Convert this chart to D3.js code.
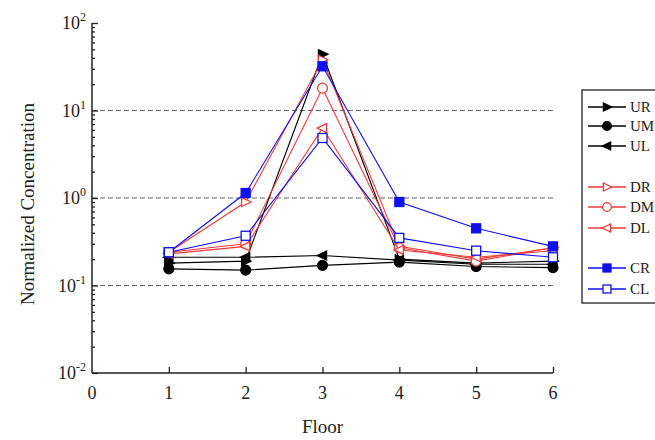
<!DOCTYPE html>
<html><head><meta charset="utf-8">
<script src="https://cdn.jsdelivr.net/npm/d3@7"></script>
<style>body{margin:0;background:#fff}svg{display:block}</style>
</head><body>
<script>
const floors = [1, 2, 3, 4, 5, 6];
const seriesNames = ["UR", "UM", "UL", "DR", "DM", "DL", "CR", "CL"];
const UR = [0.18, 0.19, 44, 0.20, 0.18, 0.19];
const UM = [0.155, 0.15, 0.17, 0.185, 0.165, 0.16];
const UL = [0.21, 0.21, 0.22, 0.195, 0.175, 0.175];
const DR = [0.24, 0.90, 38, 0.28, 0.20, 0.27];
const DM = [0.24, 0.30, 18, 0.27, 0.19, 0.27];
const DL = [0.23, 0.28, 6.3, 0.255, 0.21, 0.25];
const CR = [0.24, 1.14, 32, 0.90, 0.45, 0.28];
const CL = [0.24, 0.37, 4.85, 0.35, 0.25, 0.21];
const xTicks = [0, 1, 2, 3, 4, 5, 6];
const yTickExps = [-2, -1, 0, 1, 2];
const gridExps = [-1, 0, 1];

const W = 655, H = 440;
const svg = d3.select("body").append("svg").attr("width", W).attr("height", H);
const font = "'Liberation Serif','Times New Roman',serif";
const x = d3.scaleLinear().domain([0, 6]).range([92, 553]);
const y = d3.scaleLog().domain([0.01, 100]).range([373, 23]);

const RED = "#ee3b3b", BLUE = "#1010ee", BLACK = "#000";
const styles = {
  UR: {c: BLACK, m: "tri-r", fill: true},
  UM: {c: BLACK, m: "circle", fill: true},
  UL: {c: BLACK, m: "tri-l", fill: true},
  DR: {c: RED, m: "tri-r", fill: false},
  DM: {c: RED, m: "circle", fill: false},
  DL: {c: RED, m: "tri-l", fill: false},
  CR: {c: BLUE, m: "square", fill: true},
  CL: {c: BLUE, m: "square", fill: false}
};
const data = {UR, UM, UL, DR, DM, DL, CR, CL};

// grid
svg.append("g").selectAll("line").data(gridExps).join("line")
  .attr("x1", x(0)).attr("x2", x(6))
  .attr("y1", d => y(Math.pow(10, d))).attr("y2", d => y(Math.pow(10, d)))
  .attr("stroke", "#666").attr("stroke-width", 1).attr("stroke-dasharray", "5,3");

// axes
const yMinor = [];
for (let e = -2; e < 2; e++) for (let k = 2; k <= 9; k++) yMinor.push(k * Math.pow(10, e));
const yMajorVals = yTickExps.map(e => Math.pow(10, e));

const yAxis = svg.append("g").attr("transform", `translate(${x(0)},0)`)
  .call(d3.axisRight(y).tickValues(yMajorVals).tickSize(6).tickFormat(""));
svg.append("g").attr("transform", `translate(${x(0)},0)`)
  .call(d3.axisRight(y).tickValues(yMinor).tickSize(3).tickFormat(""))
  .call(g => g.select(".domain").remove());
yAxis.select(".domain").attr("d", `M0,${y(100)}V${y(0.01)}`);
svg.selectAll("g .tick line").attr("stroke", "#222").attr("stroke-width", 1.3);
yAxis.select(".domain").attr("stroke", "#222").attr("stroke-width", 1.5);

const xAxis = svg.append("g").attr("transform", `translate(0,${y(0.01)})`)
  .call(d3.axisTop(x).tickValues(xTicks.slice(1)).tickSize(6).tickFormat(""));
xAxis.select(".domain").attr("d", `M${x(0)},0H${x(6)}`).attr("stroke", "#222").attr("stroke-width", 1.5);
xAxis.selectAll(".tick line").attr("stroke", "#222").attr("stroke-width", 1.3);

// x tick labels
svg.append("g").selectAll("text").data(xTicks).join("text")
  .attr("x", d => x(d)).attr("y", 399)
  .attr("text-anchor", "middle").attr("font-family", font).attr("font-size", 18).attr("fill", "#222")
  .text(d => d);

// y tick labels
const yl = svg.append("g").selectAll("text").data(yTickExps).join("text")
  .attr("x", 86).attr("y", d => y(Math.pow(10, d)) + 6)
  .attr("text-anchor", "end").attr("font-family", font).attr("font-size", 18).attr("fill", "#222");
yl.append("tspan").text("10");
yl.append("tspan").attr("dy", -8).attr("font-size", 12).text(d => d < 0 ? "-" + Math.abs(d) : d);

// axis titles
svg.append("text").attr("x", x(3)).attr("y", 433).attr("text-anchor", "middle")
  .attr("font-family", font).attr("font-size", 19).attr("fill", "#222").text("Floor");
svg.append("text").attr("transform", `translate(34,204)rotate(-90)`).attr("text-anchor", "middle")
  .attr("font-family", font).attr("font-size", 19).attr("fill", "#222").text("Normalized Concentration");

function marker(sel, m, cx, cy, c, fill, s) {
  let el;
  if (m === "circle") el = sel.append("circle").attr("cx", cx).attr("cy", cy).attr("r", s * 0.55);
  else if (m === "square") el = sel.append("rect").attr("x", cx - s / 2).attr("y", cy - s / 2).attr("width", s).attr("height", s);
  else if (m === "tri-r") el = sel.append("path").attr("d", `M${cx + s * 0.6},${cy}L${cx - s * 0.45},${cy - s * 0.5}L${cx - s * 0.45},${cy + s * 0.5}Z`);
  else el = sel.append("path").attr("d", `M${cx - s * 0.6},${cy}L${cx + s * 0.45},${cy - s * 0.5}L${cx + s * 0.45},${cy + s * 0.5}Z`);
  el.attr("fill", fill ? c : "#fff").attr("stroke", c).attr("stroke-width", 1.3);
}

const line = d3.line().x((d, i) => x(floors[i])).y(d => y(d));
seriesNames.forEach(name => {
  const st = styles[name];
  const g = svg.append("g");
  g.append("path").attr("d", line(data[name])).attr("fill", "none").attr("stroke", st.c).attr("stroke-width", 1.1);
  data[name].forEach((v, i) => marker(g, st.m, x(floors[i]), y(v), st.c, st.fill, 9));
});

// legend
const leg = svg.append("g");
leg.append("rect").attr("x", 582).attr("y", 90).attr("width", 90).attr("height", 213)
  .attr("fill", "#fff").attr("stroke", "#222").attr("stroke-width", 1.3);
const legY = {UR: 107, UM: 126, UL: 146, DR: 187, DM: 207, DL: 228, CR: 268, CL: 289};
seriesNames.forEach(name => {
  const st = styles[name];
  const yy = legY[name];
  leg.append("line").attr("x1", 588).attr("x2", 626).attr("y1", yy).attr("y2", yy)
    .attr("stroke", st.c).attr("stroke-width", 1.3);
  marker(leg, st.m, 607, yy, st.c, st.fill, 8);
  leg.append("text").attr("x", 630).attr("y", yy + 5).attr("font-family", font).attr("font-size", 15)
    .attr("fill", "#222").text(name);
});
</script>
</body></html>
